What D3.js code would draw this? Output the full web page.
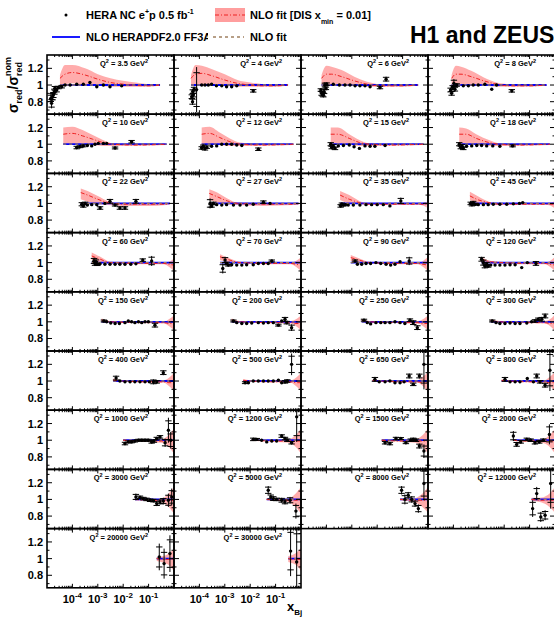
<!DOCTYPE html>
<html><head><meta charset="utf-8">
<script src="https://cdn.jsdelivr.net/npm/d3@7/dist/d3.min.js"></script>
<style>
body{margin:0;background:#fff;}
svg{display:block;font-family:"Liberation Sans",Arial,Helvetica,sans-serif;font-weight:bold;}
</style>
</head><body>
<svg id="c" width="554" height="617"></svg>
<script>
// ---------------- DATA ----------------
const q2Labels = ["3.5","4","6","8","10","12","15","18","22","27","35","45","60","70","90","120","150","200","250","300","400","500","650","800","1000","1200","1500","2000","3000","5000","8000","12000","20000","30000"];
const yTickValues = [0.8, 1, 1.2];
const yTickLabels = ["0.8", "1", "1.2"];
const xTickExponents = [-4, -3, -2, -1];

// data points: [log10(x), sigma/sigma_nom, error]
const pts_3_5 = [[-4.85,0.84,0.05],[-4.82,0.78,0.06],[-4.78,0.86,0.05],[-4.75,0.88,0.04],[-4.71,0.92,0.04],[-4.69,0.96,0.03],[-4.62,0.94,0.03],[-4.55,0.97,0.02],[-4.42,0.98,0.02],[-4.29,1.0,0.01],[-4.09,1.0,0.01],[-3.83,1.01,0],[-3.57,1.01,0],[-3.31,1.03,0],[-3.04,0.98,0],[-2.78,1.0,0],[-2.52,0.98,0],[-2.06,0.99,0.01]];
const pts_4 = [[-4.30,0.86,0.03],[-4.26,0.92,0.03],[-4.24,0.88,0.03],[-4.21,0.95,0.03],[-4.27,0.80,0.04],[-4.11,0.945,0.27],[-3.91,1.0,0],[-3.78,1.0,0],[-3.65,1.0,0],[-3.52,1.01,0],[-3.33,0.99,0],[-3.12,0.99,0],[-2.93,0.98,0],[-2.73,0.98,0],[-2.53,0.99,0],[-1.88,0.93,0.02]];
const pts_6 = [[-4.22,0.94,0.02],[-4.19,0.90,0.03],[-4.15,0.89,0.03],[-4.12,0.88,0.03],[-4.09,0.92,0.03],[-4.06,1.0,0.03],[-4.02,0.96,0.02],[-3.99,1.01,0.02],[-3.73,1.01,0],[-3.49,1.0,0],[-3.27,1.0,0],[-3.07,1.0,0],[-2.87,0.99,0],[-2.68,0.99,0],[-2.48,0.99,0],[-2.28,0.98,0],[-1.89,0.97,0.02],[-1.65,1.07,0.03]];
const pts_8 = [[-4.11,0.94,0.03],[-4.07,0.90,0.03],[-4.03,0.97,0.03],[-3.98,1.02,0.05],[-3.94,0.95,0.03],[-3.87,1.0,0.02],[-3.61,0.99,0],[-3.41,0.99,0],[-3.22,1.0,0],[-3.02,1.0,0],[-2.76,1.01,0],[-2.49,0.95,0.01],[-2.30,1.0,0],[-1.70,0.93,0.02]];
const pts_10 = [[-3.83,0.96,0.02],[-3.70,0.97,0.015],[-3.57,0.98,0.015],[-3.41,0.985,0],[-3.24,0.98,0],[-3.11,1.0,0],[-2.98,1.01,0],[-2.78,1.01,0],[-2.65,1.01,0],[-2.32,0.955,0.015],[-1.67,1.03,0.02]];
const pts_12 = [[-3.91,0.955,0.02],[-3.85,0.975,0.02],[-3.78,0.945,0.02],[-3.71,0.965,0.02],[-3.52,0.975,0],[-3.32,0.98,0],[-3.12,1.0,0],[-2.93,1.0,0],[-2.73,1.0,0],[-2.53,0.99,0],[-2.33,0.985,0],[-1.68,0.94,0.02]];
const pts_15 = [[-3.83,1.0,0.025],[-3.79,0.96,0.02],[-3.73,0.98,0.02],[-3.66,0.95,0.02],[-3.53,0.98,0],[-3.33,0.985,0],[-3.10,0.99,0],[-2.91,0.97,0],[-2.70,0.95,0],[-2.48,0.98,0],[-2.28,0.975,0],[-2.09,0.975,0.01],[-1.69,0.985,0.01]];
const pts_18 = [[-3.77,1.0,0.025],[-3.71,0.96,0.02],[-3.66,0.98,0.02],[-3.61,0.95,0.02],[-3.48,0.975,0],[-3.28,0.98,0],[-3.08,0.985,0],[-2.89,0.985,0],[-2.69,0.98,0],[-2.45,0.98,0],[-2.17,0.975,0],[-1.67,0.98,0.015]];
const pts_22 = [[-3.63,0.99,0.025],[-3.57,0.97,0.02],[-3.50,1.0,0.02],[-3.41,0.98,0],[-3.24,0.985,0],[-3.04,0.985,0],[-2.91,0.945,0.02],[-2.72,1.0,0],[-2.52,1.025,0.03],[-2.32,0.98,0.015],[-2.13,0.945,0.02],[-1.93,0.945,0.02],[-1.50,1.025,0.03]];
const pts_27 = [[-3.58,1.0,0.06],[-3.52,0.97,0.02],[-3.45,1.0,0.02],[-3.32,0.985,0],[-3.12,0.98,0],[-2.93,0.985,0],[-2.66,0.98,0],[-2.40,0.98,0],[-2.14,0.98,0],[-1.88,0.99,0],[-1.48,1.015,0.02],[-1.22,1.0,0]];
const pts_35 = [[-3.44,0.97,0.02],[-3.39,0.99,0.02],[-3.33,0.98,0.015],[-3.25,0.985,0],[-3.14,0.98,0],[-2.94,0.98,0],[-2.68,0.98,0],[-2.44,0.985,0],[-2.22,0.985,0],[-2.00,0.985,0],[-1.76,0.985,0],[-1.50,0.97,0],[-1.07,1.03,0.04]];
const pts_45 = [[-3.32,1.0,0.02],[-3.27,0.985,0.02],[-3.22,1.01,0.02],[-3.14,0.99,0.015],[-3.02,0.985,0],[-2.82,0.985,0],[-2.63,0.985,0],[-2.43,0.99,0],[-2.17,0.99,0],[-1.90,0.99,0],[-1.64,0.995,0],[-1.40,1.0,0],[-1.27,1.01,0.01]];
const pts_60 = [[-3.15,1.02,0.04],[-3.11,0.99,0.03],[-3.07,1.01,0.03],[-3.02,0.98,0.02],[-2.91,0.985,0],[-2.72,0.98,0],[-2.52,0.98,0],[-2.32,0.98,0],[-2.13,0.98,0],[-1.93,0.98,0],[-1.70,0.98,0],[-1.50,0.985,0],[-1.23,1.03,0.02],[-0.88,1.02,0.06]];
const pts_70 = [[-3.08,0.93,0.06],[-2.99,1.03,0.04],[-2.93,0.99,0.02],[-2.86,0.97,0.015],[-2.73,0.975,0],[-2.53,0.97,0],[-2.33,0.97,0],[-2.14,0.975,0],[-1.88,0.975,0],[-1.68,0.99,0],[-1.48,0.99,0],[-1.29,0.99,0],[-1.15,1.02,0.015]];
const pts_90 = [[-2.87,1.02,0.015],[-2.78,0.98,0],[-2.61,0.98,0],[-2.44,0.99,0],[-2.26,0.99,0],[-2.05,1.0,0],[-1.86,0.99,0],[-1.65,0.98,0],[-1.47,0.97,0],[-1.30,0.98,0],[-1.10,1.01,0],[-0.74,1.02,0.05]];
const pts_120 = [[-2.89,1.04,0.03],[-2.82,1.0,0.04],[-2.76,0.96,0.03],[-2.69,0.98,0.03],[-2.63,0.96,0.02],[-2.53,0.97,0],[-2.36,0.97,0],[-2.17,0.97,0],[-1.97,0.97,0],[-1.77,0.975,0],[-1.57,0.975,0],[-1.31,0.94,0],[-1.09,1.0,0.01],[-0.75,0.99,0.03]];
const pts_150 = [[-2.76,1.01,0.015],[-2.65,1.0,0],[-2.49,0.985,0],[-2.32,0.98,0],[-2.15,0.98,0],[-1.93,0.99,0],[-1.80,1.01,0],[-1.67,1.0,0],[-1.54,0.99,0],[-1.40,1.0,0],[-1.27,0.99,0.01],[-1.14,1.0,0.01],[-1.01,1.0,0.01],[-0.75,0.96,0.03]];
const pts_200 = [[-2.66,1.01,0.015],[-2.53,0.99,0],[-2.33,0.98,0],[-2.14,0.98,0],[-1.94,0.985,0],[-1.68,0.99,0],[-1.48,0.985,0],[-1.29,0.99,0],[-1.09,0.99,0],[-0.89,0.96,0.015],[-0.76,1.01,0.01],[-0.63,1.03,0.03],[-0.56,0.99,0.02],[-0.37,0.93,0.04]];
const pts_250 = [[-2.52,1.02,0.015],[-2.39,0.99,0],[-2.26,0.975,0],[-2.05,0.99,0],[-1.86,0.99,0],[-1.69,0.99,0],[-1.50,0.99,0],[-1.30,1.0,0],[-1.10,0.99,0],[-0.91,0.98,0],[-0.71,1.02,0.02],[-0.58,0.99,0.03],[-0.42,0.93,0.03]];
const pts_300 = [[-2.47,1.01,0.015],[-2.32,0.99,0],[-2.17,0.98,0],[-1.97,0.98,0],[-1.77,0.985,0],[-1.57,0.98,0],[-1.38,0.98,0],[-1.11,0.985,0],[-0.92,1.0,0.01],[-0.79,1.01,0.02],[-0.66,1.03,0.02],[-0.52,1.03,0.03],[-0.39,1.07,0.03]];
const pts_400 = [[-2.28,1.035,0.03],[-2.13,1.0,0],[-1.93,0.99,0],[-1.73,0.99,0],[-1.54,0.99,0],[-1.34,0.99,0],[-1.14,0.99,0],[-0.97,0.99,0.01],[-0.81,0.99,0.03],[-0.68,0.99,0.02],[-0.42,1.1,0.03]];
const pts_500 = [[-2.20,0.98,0.015],[-2.07,0.98,0],[-1.88,1.0,0],[-1.68,1.0,0],[-1.48,1.0,0],[-1.29,1.0,0],[-1.09,1.0,0],[-0.89,1.01,0.01],[-0.76,0.98,0.01],[-0.63,0.99,0.02],[-0.54,1.0,0.02],[-0.37,1.2,0.13]];
const pts_650 = [[-2.09,1.02,0.03],[-1.92,0.99,0],[-1.69,0.99,0],[-1.50,1.0,0],[-1.30,0.98,0],[-1.10,0.98,0],[-0.94,0.99,0],[-0.74,1.06,0.03],[-0.58,0.96,0.02],[-0.34,1.06,0.03],[-0.16,1.2,0.3]];
const pts_800 = [[-1.97,1.02,0.03],[-1.77,0.99,0],[-1.57,0.99,0],[-1.38,0.99,0],[-1.09,1.03,0.01],[-0.85,0.99,0],[-0.72,1.06,0.03],[-0.59,0.99,0.02],[-0.39,0.95,0.03],[-0.20,1.13,0.25]];
const pts_1000 = [[-1.93,0.96,0.02],[-1.80,0.98,0.015],[-1.67,0.98,0.015],[-1.54,0.99,0.015],[-1.40,1.0,0.015],[-1.27,1.0,0.015],[-1.14,1.0,0.015],[-1.01,1.0,0.015],[-0.88,0.98,0.02],[-0.79,0.99,0.02],[-0.68,1.02,0.02],[-0.55,1.04,0.02],[-0.35,0.97,0.05],[-0.22,1.12,0.15],[-0.13,1.0,0.1]];
const pts_1200 = [[-1.88,1.01,0.02],[-1.74,1.01,0.015],[-1.55,1.0,0],[-1.35,0.98,0],[-1.15,0.99,0],[-0.96,0.99,0],[-0.76,1.05,0.02],[-0.63,1.02,0.02],[-0.54,1.0,0.02],[-0.37,0.97,0.02],[-0.17,1.28,0.3]];
const pts_1500 = [[-1.69,0.97,0.02],[-1.50,0.96,0.02],[-1.26,1.02,0.02],[-1.07,1.02,0.015],[-0.87,0.97,0.015],[-0.68,1.0,0.02],[-0.58,1.01,0.02],[-0.47,1.0,0.02],[-0.34,0.93,0.03],[-0.16,0.87,0.08]];
const pts_2000 = [[-1.64,1.05,0.06],[-1.51,0.95,0.03],[-1.35,0.98,0.02],[-1.11,1.01,0.02],[-0.96,1.0,0.02],[-0.79,0.97,0.02],[-0.62,0.98,0.02],[-0.46,1.0,0.02],[-0.22,1.07,0.12]];
const pts_3000 = [[-1.50,1.03,0.04],[-1.34,1.025,0.02],[-1.21,1.01,0.02],[-1.08,1.0,0.02],[-0.94,0.99,0.02],[-0.81,0.985,0.02],[-0.68,0.95,0.03],[-0.55,0.97,0.03],[-0.42,0.98,0.04],[-0.22,0.99,0.08],[-0.09,1.03,0.1]];
const pts_5000 = [[-1.29,1.11,0.05],[-1.19,1.03,0.03],[-1.09,1.01,0.03],[-0.96,1.0,0.02],[-0.76,0.99,0.03],[-0.63,0.97,0.03],[-0.43,0.99,0.04],[-0.20,0.86,0.09]];
const pts_8000 = [[-1.04,1.11,0.05],[-0.91,1.0,0.06],[-0.78,1.05,0.04],[-0.64,1.0,0.04],[-0.51,0.95,0.04],[-0.38,0.89,0.05],[-0.16,1.19,0.2]];
const pts_12000 = [[-0.88,0.89,0.1],[-0.72,1.07,0.08],[-0.56,0.79,0.06],[-0.39,0.81,0.06],[-0.17,1.19,0.3]];
const pts_20000 = [[-0.58,1.02,0.16],[-0.39,0.94,0.18],[-0.16,1.06,0.22]];
const pts_30000 = [[-0.41,1.09,0.3],[-0.17,0.96,0.45]];

// NLO fit [DIS xmin=0.01] band: [log10(x), low, central, high]
const band_3_5 = [[-4.49,1.0,1.08,1.12],[-4.29,1.01,1.13,1.24],[-4.0,1.02,1.15,1.24],[-3.5,1.0,1.12,1.2],[-3.0,0.99,1.07,1.13],[-2.5,0.98,1.03,1.08],[-2.0,0.98,1.01,1.05],[-1.5,0.98,0.995,1.03],[-1.0,0.98,0.99,1.01],[-0.55,0.99,1.0,1.0]];
const band_4 = [[-4.33,1.0,1.08,1.12],[-4.15,1.01,1.13,1.24],[-3.9,1.01,1.14,1.23],[-3.5,1.0,1.11,1.19],[-3.0,0.99,1.06,1.13],[-2.5,0.98,1.02,1.06],[-2.0,0.98,1.0,1.03],[-1.5,0.98,0.99,1.01],[-1.0,0.98,0.99,1.0],[-0.51,0.99,1.0,1.0]];
const band_6 = [[-4.19,1.0,1.08,1.12],[-4.0,1.01,1.13,1.23],[-3.8,1.01,1.13,1.22],[-3.4,1.0,1.1,1.18],[-2.9,0.99,1.05,1.1],[-2.4,0.98,1.01,1.04],[-1.9,0.98,0.99,1.01],[-1.0,0.98,0.99,1.0],[-0.39,0.99,1.0,1.0]];
const band_8 = [[-4.07,1.0,1.08,1.12],[-3.9,1.01,1.13,1.23],[-3.7,1.01,1.13,1.22],[-3.3,1.0,1.1,1.17],[-2.8,0.99,1.05,1.09],[-2.3,0.98,1.01,1.03],[-1.8,0.98,0.99,1.01],[-1.0,0.98,0.99,1.0],[-0.33,0.99,1.0,1.0]];
const band_10 = [[-4.36,1.0,1.12,1.2],[-4.0,1.0,1.13,1.21],[-3.6,0.99,1.1,1.17],[-3.2,0.99,1.06,1.11],[-2.8,0.98,1.02,1.05],[-2.4,0.98,1.0,1.01],[-1.5,0.98,0.99,1.0],[-0.29,0.99,1.0,1.0]];
const band_12 = [[-3.91,1.0,1.12,1.2],[-3.6,1.0,1.13,1.21],[-3.2,0.99,1.08,1.14],[-2.8,0.98,1.03,1.07],[-2.4,0.98,1.0,1.02],[-1.5,0.98,0.99,1.0],[-0.3,0.99,1.0,1.0]];
const band_15 = [[-3.83,1.0,1.12,1.2],[-3.55,1.0,1.12,1.2],[-3.1,0.99,1.07,1.12],[-2.7,0.98,1.02,1.05],[-2.3,0.98,1.0,1.01],[-1.5,0.98,0.99,1.0],[-0.18,0.99,1.0,1.0]];
const band_18 = [[-3.77,1.0,1.12,1.2],[-3.5,1.0,1.12,1.19],[-3.1,0.99,1.07,1.12],[-2.6,0.98,1.02,1.05],[-2.2,0.98,1.0,1.01],[-1.5,0.98,0.99,1.0],[-0.2,0.99,1.0,1.0]];
const band_22 = [[-3.67,1.05,1.13,1.18],[-3.4,1.02,1.1,1.15],[-3.0,0.99,1.05,1.09],[-2.6,0.98,1.01,1.03],[-2.0,0.97,0.99,1.0],[-1.0,0.97,0.99,1.0],[-0.3,0.98,0.99,1.0],[-0.16,0.99,1.0,1.0]];
const band_27 = [[-3.61,1.04,1.12,1.17],[-3.3,1.01,1.08,1.13],[-2.9,0.99,1.03,1.06],[-2.5,0.98,1.0,1.01],[-1.5,0.97,0.99,1.0],[-0.3,0.98,0.99,1.0],[-0.1,0.98,1.0,1.01]];
const band_35 = [[-3.46,1.04,1.1,1.15],[-3.1,1.0,1.05,1.1],[-2.7,0.99,1.01,1.03],[-2.3,0.98,0.99,1.0],[-1.0,0.98,0.99,1.0],[-0.3,0.98,0.99,1.0],[-0.05,0.95,0.99,1.02]];
const band_45 = [[-3.35,1.04,1.09,1.14],[-3.0,1.0,1.04,1.08],[-2.6,0.99,1.01,1.02],[-2.2,0.98,0.99,1.0],[-1.0,0.98,0.99,1.0],[-0.3,0.98,0.99,1.0],[0,0.94,0.99,1.03]];
const band_60 = [[-3.24,1.03,1.08,1.12],[-2.9,1.0,1.04,1.07],[-2.5,0.99,1.0,1.01],[-1.0,0.98,0.99,1.0],[-0.4,0.98,0.99,1.0],[-0.2,0.95,0.98,1.01],[0,0.9,0.97,1.05]];
const band_70 = [[-3.19,1.03,1.07,1.1],[-2.8,1.0,1.03,1.05],[-2.4,0.99,1.0,1.01],[-1.0,0.98,0.99,1.0],[-0.4,0.98,0.99,1.0],[-0.2,0.95,0.98,1.02],[0,0.9,0.97,1.06]];
const band_90 = [[-3.04,1.02,1.06,1.09],[-2.7,1.0,1.03,1.05],[-2.3,0.99,1.0,1.01],[-1.0,0.98,0.99,1.0],[-0.4,0.98,0.99,1.0],[-0.2,0.95,0.98,1.02],[0,0.9,0.97,1.07]];
const band_120 = [[-2.89,1.01,1.04,1.06],[-2.5,0.99,1.01,1.02],[-1.0,0.98,0.99,1.0],[-0.4,0.98,0.99,1.0],[-0.2,0.95,0.98,1.02],[0,0.9,0.97,1.07]];
const band_150 = [[-2.85,1.0,1.02,1.04],[-2.5,0.99,1.0,1.01],[-1.0,0.985,0.99,1.0],[-0.4,0.98,0.99,1.0],[-0.2,0.95,0.98,1.03],[0,0.9,0.98,1.08]];
const band_200 = [[-2.73,1.0,1.02,1.04],[-2.4,0.99,1.0,1.01],[-1.0,0.985,0.99,1.0],[-0.4,0.98,0.99,1.01],[-0.2,0.95,0.98,1.03],[0,0.9,0.98,1.08]];
const band_250 = [[-2.61,1.0,1.02,1.03],[-2.3,0.99,1.0,1.01],[-1.0,0.985,0.99,1.0],[-0.4,0.98,0.99,1.01],[-0.2,0.95,0.98,1.03],[0,0.9,0.98,1.08]];
const band_300 = [[-2.53,1.0,1.015,1.03],[-2.2,0.99,1.0,1.01],[-1.0,0.985,0.99,1.0],[-0.4,0.98,0.99,1.01],[-0.2,0.95,0.98,1.03],[0,0.89,0.98,1.09]];
const band_400 = [[-2.39,1.0,1.01,1.03],[-2.1,0.99,1.0,1.01],[-1.0,0.985,0.99,1.0],[-0.4,0.98,0.99,1.01],[-0.2,0.94,0.98,1.04],[0,0.88,0.98,1.1]];
const band_500 = [[-2.27,0.995,1.01,1.02],[-2.0,0.99,1.0,1.01],[-1.0,0.985,0.99,1.0],[-0.4,0.98,0.99,1.01],[-0.2,0.94,0.98,1.04],[0,0.88,0.98,1.1]];
const band_650 = [[-2.18,0.995,1.005,1.02],[-1.9,0.99,1.0,1.01],[-1.0,0.985,0.99,1.0],[-0.4,0.98,0.99,1.01],[-0.2,0.94,0.98,1.05],[0,0.87,0.98,1.11]];
const band_800 = [[-2.10,0.995,1.005,1.02],[-1.8,0.99,1.0,1.01],[-1.0,0.985,0.99,1.0],[-0.4,0.98,0.99,1.01],[-0.2,0.94,0.98,1.05],[0,0.87,0.98,1.11]];
const band_1000 = [[-2.0,0.99,1.0,1.01],[-1.0,0.98,0.99,1.0],[-0.5,0.97,0.99,1.01],[-0.25,0.93,0.99,1.05],[0,0.84,0.99,1.14]];
const band_1200 = [[-1.94,0.99,1.0,1.01],[-1.0,0.98,0.99,1.0],[-0.5,0.97,0.99,1.01],[-0.25,0.93,0.99,1.05],[0,0.84,0.99,1.14]];
const band_1500 = [[-1.82,0.99,1.0,1.01],[-1.0,0.98,0.99,1.0],[-0.5,0.97,0.99,1.01],[-0.25,0.93,0.99,1.05],[0,0.84,0.99,1.14]];
const band_2000 = [[-1.64,0.99,1.0,1.01],[-1.0,0.98,0.99,1.0],[-0.5,0.97,0.99,1.01],[-0.25,0.93,0.99,1.05],[0,0.84,0.99,1.14]];
const band_3000 = [[-1.54,0.99,1.0,1.01],[-1.0,0.98,0.99,1.0],[-0.5,0.965,0.99,1.01],[-0.25,0.92,0.99,1.06],[0,0.83,0.99,1.15]];
const band_5000 = [[-1.35,0.99,1.0,1.01],[-0.8,0.98,0.99,1.0],[-0.5,0.965,0.99,1.01],[-0.25,0.92,0.99,1.06],[0,0.83,0.99,1.15]];
const band_8000 = [[-1.10,0.99,1.0,1.01],[-0.6,0.97,0.99,1.01],[-0.3,0.93,0.99,1.05],[0,0.84,0.99,1.15]];
const band_12000 = [[-0.92,0.98,1.0,1.02],[-0.6,0.97,0.99,1.02],[-0.3,0.93,0.99,1.05],[0,0.84,0.99,1.15]];
const band_20000 = [[-0.68,0.97,1.0,1.02],[-0.4,0.95,0.99,1.03],[-0.2,0.92,0.99,1.06],[0,0.85,0.99,1.12]];
const band_30000 = [[-0.5,0.96,1.0,1.03],[-0.3,0.94,0.99,1.05],[-0.15,0.91,0.99,1.08],[0,0.85,0.99,1.13]];

const panelPoints = [pts_3_5,pts_4,pts_6,pts_8,pts_10,pts_12,pts_15,pts_18,pts_22,pts_27,pts_35,pts_45,pts_60,pts_70,pts_90,pts_120,pts_150,pts_200,pts_250,pts_300,pts_400,pts_500,pts_650,pts_800,pts_1000,pts_1200,pts_1500,pts_2000,pts_3000,pts_5000,pts_8000,pts_12000,pts_20000,pts_30000];
const panelBands = [band_3_5,band_4,band_6,band_8,band_10,band_12,band_15,band_18,band_22,band_27,band_35,band_45,band_60,band_70,band_90,band_120,band_150,band_200,band_250,band_300,band_400,band_500,band_650,band_800,band_1000,band_1200,band_1500,band_2000,band_3000,band_5000,band_8000,band_12000,band_20000,band_30000];

// ---------------- DRAWING ----------------
const svg = d3.select("#c");
const left0 = 47, colW = 127, top0 = 55, rowH = 59.2;
const x = d3.scaleLog().domain([1e-5, 1]).range([0, colW]);
const y = d3.scaleLinear().domain([0.65, 1.36]).range([rowH, 0]);
const X = lx => x(Math.pow(10, lx));

const defs = svg.append("defs");
defs.append("clipPath").attr("id","pclip").append("rect").attr("x",0).attr("y",0).attr("width",colW).attr("height",rowH);

const area = d3.area().x(d => X(d[0])).y0(d => y(d[1])).y1(d => y(d[3])).curve(d3.curveMonotoneX);
const midLine = d3.line().x(d => X(d[0])).y(d => y(d[2])).curve(d3.curveMonotoneX);

q2Labels.forEach((q, i) => {
  const r = Math.floor(i/4), c = i % 4;
  const g = svg.append("g").attr("transform",`translate(${left0 + c*colW},${top0 + r*rowH})`);
  const inner = g.append("g").attr("clip-path","url(#pclip)");
  const band = panelBands[i];
  const bx0 = band[0][0], bx1 = band[band.length-1][0];
  inner.append("path").attr("d", area(band)).attr("fill","#ff9e9e").attr("opacity",0.85);
  inner.append("line").attr("x1",X(bx0)).attr("x2",X(bx1)).attr("y1",y(1)).attr("y2",y(1))
    .attr("stroke","#0000ff").attr("stroke-width",1.8);
  inner.append("line").attr("x1",X(bx0)).attr("x2",X(bx1)).attr("y1",y(1)).attr("y2",y(1))
    .attr("stroke","#a08060").attr("stroke-width",1.3).attr("stroke-dasharray","3,3");
  inner.append("path").attr("d", midLine(band)).attr("fill","none").attr("stroke","#ee2222")
    .attr("stroke-width",1).attr("stroke-dasharray","4,2,1,2");
  // data points
  panelPoints[i].forEach(p => {
    const px = X(p[0]), py = y(p[1]);
    if (p[2] > 0.012) {
      inner.append("line").attr("x1",px).attr("x2",px).attr("y1",y(p[1]-p[2])).attr("y2",y(p[1]+p[2]))
        .attr("stroke","#000").attr("stroke-width",1);
      [p[1]-0.75*p[2], p[1]+0.75*p[2]].forEach(v => {
        inner.append("line").attr("x1",px-3.2).attr("x2",px+3.2).attr("y1",y(v)).attr("y2",y(v))
          .attr("stroke","#000").attr("stroke-width",1);
      });
    }
    inner.append("circle").attr("cx",px).attr("cy",py).attr("r",1.7).attr("fill","#000");
  });
  // ticks
  const tk = g.append("g").attr("stroke","#000").attr("stroke-width",1);
  d3.range(0.7, 1.36, 0.1).forEach(v => {
    const major = yTickValues.some(t => Math.abs(t - v) < 1e-6);
    const L = major ? 5 : 2.5;
    tk.append("line").attr("x1",0).attr("x2",L).attr("y1",y(v)).attr("y2",y(v));
    tk.append("line").attr("x1",colW-L).attr("x2",colW).attr("y1",y(v)).attr("y2",y(v));
  });
  for (let e = -5; e < 0; e++) {
    for (let k = 1; k < 10; k++) {
      const v = k * Math.pow(10, e);
      if (v <= 1e-5) continue;
      const L = k === 1 ? 4 : 2;
      tk.append("line").attr("x1",x(v)).attr("x2",x(v)).attr("y1",rowH).attr("y2",rowH-L);
      tk.append("line").attr("x1",x(v)).attr("x2",x(v)).attr("y1",0).attr("y2",L);
    }
  }
  g.append("rect").attr("x",0).attr("y",0).attr("width",colW).attr("height",rowH)
    .attr("fill","none").attr("stroke","#000").attr("stroke-width",1.6);
  // Q2 label
  const t = g.append("text").attr("x", c === 0 ? 101 : 108).attr("y",11).attr("text-anchor","end").attr("font-size",7.5);
  t.append("tspan").text("Q");
  t.append("tspan").attr("font-size",5.5).attr("dy",-3).text("2");
  t.append("tspan").attr("dy",3).text(" = " + q + " GeV");
  t.append("tspan").attr("font-size",5.5).attr("dy",-3).text("2");
  // y labels
  if (c === 0) {
    yTickValues.forEach((v, k) => {
      g.append("text").attr("x",-4).attr("y",y(v)+4).attr("text-anchor","end").attr("font-size",11).text(yTickLabels[k]);
    });
  }
  // x labels for bottom row
  if (r === 8) {
    xTickExponents.forEach(e => {
      const tt = g.append("text").attr("x",x(Math.pow(10,e))).attr("y",rowH+15).attr("text-anchor","middle").attr("font-size",11);
      tt.append("tspan").text("10");
      tt.append("tspan").attr("font-size",8).attr("dy",-5).text(String(e));
    });
  }
});

// legend
svg.append("circle").attr("cx",66).attr("cy",15).attr("r",1.5).attr("fill","#000");
let t1 = svg.append("text").attr("x",86).attr("y",19).attr("font-size",11);
t1.append("tspan").text("HERA NC e");
t1.append("tspan").attr("font-size",7).attr("dy",-5).text("+");
t1.append("tspan").attr("dy",5).text("p 0.5 fb");
t1.append("tspan").attr("font-size",7).attr("dy",-5).text("-1");

svg.append("rect").attr("x",215).attr("y",8).attr("width",30).attr("height",14).attr("fill","#ff9e9e");
svg.append("line").attr("x1",215).attr("x2",245).attr("y1",15).attr("y2",15).attr("stroke","#ee2222").attr("stroke-width",1.2).attr("stroke-dasharray","4,2,1,2");
let t2 = svg.append("text").attr("x",250).attr("y",19).attr("font-size",11);
t2.append("tspan").text("NLO fit [DIS x");
t2.append("tspan").attr("font-size",7).attr("dy",5).text("min");
t2.append("tspan").attr("dy",-5).text(" = 0.01]");

svg.append("line").attr("x1",52).attr("x2",80).attr("y1",37).attr("y2",37).attr("stroke","#0000ff").attr("stroke-width",1.8);
svg.append("text").attr("x",86).attr("y",41).attr("font-size",11).text("NLO HERAPDF2.0 FF3A");
svg.append("rect").attr("x",208).attr("y",29).attr("width",39).attr("height",15).attr("fill","#fff");
svg.append("line").attr("x1",213).attr("x2",244).attr("y1",37).attr("y2",37).attr("stroke","#a08060").attr("stroke-width",1.3).attr("stroke-dasharray","3,3");
svg.append("text").attr("x",250).attr("y",41).attr("font-size",11).text("NLO fit");

svg.append("text").attr("x",410).attr("y",43).attr("font-size",23).text("H1 and ZEUS");

// axis titles
const yt = svg.append("text").attr("transform","translate(18,113) rotate(-90)").attr("font-size",14);
yt.append("tspan").text("σ");
yt.append("tspan").attr("font-size",9).attr("dy",4).text("red");
yt.append("tspan").attr("dy",-4).text("/σ");
yt.append("tspan").attr("font-size",9).attr("dy",4).text("red");
yt.append("tspan").attr("font-size",9).attr("dx",-14).attr("dy",-11).text("nom");

const xt = svg.append("text").attr("x",287).attr("y",611).attr("font-size",13);
xt.append("tspan").text("x");
xt.append("tspan").attr("font-size",8).attr("dy",4).text("Bj");
</script>
</body></html>
